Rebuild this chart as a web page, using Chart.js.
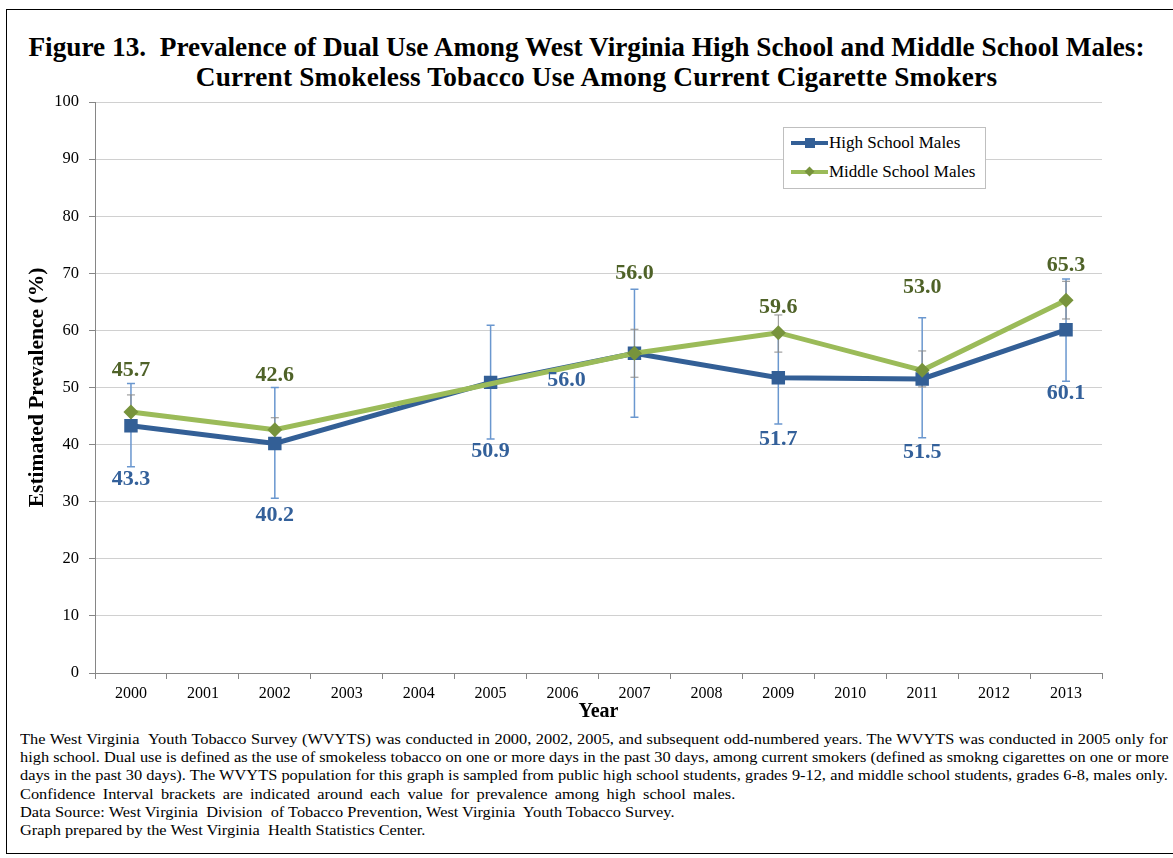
<!DOCTYPE html>
<html>
<head>
<meta charset="utf-8">
<script src="https://cdn.jsdelivr.net/npm/chart.js@4.4.0/dist/chart.umd.min.js"></script>
<style>
  body { margin: 0; background: #fff; font-family: "Liberation Serif", serif; }
  #frame { position: absolute; left: 6px; top: 9px; width: 1180px; height: 843px; border: 1px solid #000; }
  #title { position: absolute; left: 0; top: 32px; width: 1173px; text-align: center; font-weight: bold; font-size: 27.3px; line-height: 30px; }
  #title .l2 { position: relative; left: 10px; letter-spacing: 0.2px; }
  #chartBox { position: absolute; left: 0; top: 0; width: 1173px; height: 724px; }
  #legend { position: absolute; left: 783px; top: 127px; width: 201px; height: 60px; border: 1px solid #BFBFBF; background: #fff; font-size: 17px; }
  .row { position: absolute; left: 0; height: 20px; width: 200px; }
  .row .ln { position: absolute; left: 7px; top: 8px; width: 37px; height: 4px; }
  .row .mk { position: absolute; }
  .row .tx { position: absolute; left: 45px; top: 0; line-height: 20px; white-space: nowrap; }
  #notes { position: absolute; left: 20px; top: 730px; width: 1053px; font-size: 15px; line-height: 18.2px; transform: scaleX(1.09); transform-origin: 0 0; }
  #notes div { white-space: nowrap; }
  .j { text-align: justify; text-align-last: justify; }
</style>
</head>
<body>
<div id="frame"></div>
<div id="title">Figure 13.&nbsp; Prevalence of Dual Use Among West Virginia High School and Middle School Males:<br><span class="l2">Current Smokeless Tobacco Use Among Current Cigarette Smokers</span></div>
<div id="chartBox"><canvas id="dualUseChart"></canvas></div>
<div id="legend">
  <div class="row" style="top:5px">
    <div class="ln" style="background:#335F96"></div>
    <div class="mk" style="left:21px;top:5px;width:10px;height:10px;background:#335F96"></div>
    <div class="tx">High School Males</div>
  </div>
  <div class="row" style="top:34px">
    <div class="ln" style="background:#9BBB59"></div>
    <div class="mk" style="left:22px;top:6px;width:7px;height:7px;background:#77933C;transform:rotate(45deg)"></div>
    <div class="tx">Middle School Males</div>
  </div>
</div>
<div id="notes">
  <div class="j">The West Virginia&nbsp; Youth Tobacco Survey (WVYTS) was conducted in 2000, 2002, 2005, and subsequent odd-numbered years. The WVYTS was conducted in 2005 only for</div>
  <div class="j">high school. Dual use is defined as the use of smokeless tobacco on one or more days in the past 30 days, among current smokers (defined as smokng cigarettes on one or more</div>
  <div class="j">days in the past 30 days). The WVYTS population for this graph is sampled from public high school students, grades 9-12, and middle school students, grades 6-8, males only.</div>
  <div style="word-spacing:3px">Confidence Interval brackets are indicated around each value for prevalence among high school males.</div>
  <div>Data Source: West Virginia&nbsp; Division&nbsp; of Tobacco Prevention, West Virginia&nbsp; Youth Tobacco Survey.</div>
  <div>Graph prepared by the West Virginia&nbsp; Health Statistics Center.</div>
</div>
<script>
const years = ['2000', '2001', '2002', '2003', '2004', '2005', '2006', '2007', '2008', '2009', '2010', '2011', '2012', '2013'];
const highSchool = [43.3, null, 40.2, null, null, 50.9, null, 56.0, null, 51.7, null, 51.5, null, 60.1];
const middleSchool = [45.7, null, 42.6, null, null, null, null, 56.0, null, 59.6, null, 53.0, null, 65.3];
// confidence intervals
const highLow = [36.1, null, 30.6, null, null, 41.0, null, 44.8, null, 43.6, null, 41.2, null, 51.1];
const highHigh = [50.7, null, 50.0, null, null, 60.9, null, 67.2, null, 59.8, null, 62.2, null, 69.0];
const middleLow = [42.7, null, 40.5, null, null, null, null, 51.8, null, 56.2, null, 50.1, null, 62.0];
const middleHigh = [48.7, null, 44.7, null, null, null, null, 60.2, null, 62.7, null, 56.4, null, 68.6];
const yTicks = [0, 10, 20, 30, 40, 50, 60, 70, 80, 90, 100];

// label placement (pixels from the point)
const highLabelShift = [[0, 54], null, [0, 72], null, null, [0, 69], null, [-68, 27], null, [0, 62], null, [0, 73], null, [0, 63]];
const middleLabelShift = [[0, -42], null, [0, -54], null, null, null, null, [0, -80], null, [0, -25], null, [0, -83], null, [0, -35]];

const errorBars = {
  id: 'errorBars',
  beforeDatasetsDraw(chart) {
    const ctx = chart.ctx;
    const y = chart.scales.y;
    chart.data.datasets.forEach((ds, i) => {
      if (!ds.ciLow) return;
      const meta = chart.getDatasetMeta(i);
      ctx.save();
      ctx.strokeStyle = ds.ciColor;
      ctx.lineWidth = ds.ciWidth;
      ds.ciLow.forEach((lo, k) => {
        if (lo == null) return;
        const x = meta.data[k].x;
        const y1 = y.getPixelForValue(lo);
        const y2 = y.getPixelForValue(ds.ciHigh[k]);
        ctx.beginPath();
        ctx.moveTo(x, y1); ctx.lineTo(x, y2);
        ctx.moveTo(x - 4, y1); ctx.lineTo(x + 4, y1);
        ctx.moveTo(x - 4, y2); ctx.lineTo(x + 4, y2);
        ctx.stroke();
      });
      ctx.restore();
    });
  }
};

const pointLabels = {
  id: 'pointLabels',
  afterDatasetsDraw(chart) {
    const ctx = chart.ctx;
    ctx.save();
    ctx.font = 'bold 22px "Liberation Serif"';
    ctx.textAlign = 'center';
    ctx.textBaseline = 'middle';
    chart.data.datasets.forEach((ds, i) => {
      const meta = chart.getDatasetMeta(i);
      ctx.fillStyle = ds.labelColor;
      ds.data.forEach((v, k) => {
        if (v == null) return;
        const p = meta.data[k];
        const s = ds.labelShift[k];
        ctx.fillText(v.toFixed(1), p.x + s[0], p.y + s[1]);
      });
    });
    ctx.restore();
  }
};

new Chart(document.getElementById('dualUseChart'), {
  type: 'line',
  data: {
    labels: years,
    datasets: [{
      label: 'High School Males',
      data: highSchool,
      order: 1,
      spanGaps: true,
      borderColor: '#335F96',
      borderWidth: 5,
      pointStyle: 'rect',
      pointRadius: 9.5,
      pointBackgroundColor: '#335F96',
      pointBorderColor: '#335F96',
      pointBorderWidth: 0,
      ciLow: highLow, ciHigh: highHigh, ciColor: '#6A97CF', ciWidth: 1.5,
      labelColor: '#33609A', labelShift: highLabelShift
    }, {
      label: 'Middle School Males',
      data: middleSchool,
      order: 0,
      spanGaps: true,
      borderColor: '#9BBB59',
      borderWidth: 5,
      pointStyle: 'rectRot',
      pointRadius: 7.5,
      pointBackgroundColor: '#77933C',
      pointBorderColor: '#77933C',
      pointBorderWidth: 0,
      ciLow: middleLow, ciHigh: middleHigh, ciColor: '#8C8C8C', ciWidth: 1,
      labelColor: '#4F6228', labelShift: middleLabelShift
    }]
  },
  options: {
    responsive: true,
    maintainAspectRatio: false,
    animation: false,
    layout: { padding: { left: 20, right: 71, top: 102, bottom: 0 } },
    plugins: { legend: { display: false }, tooltip: { enabled: false } },
    scales: {
      x: {
        offset: true,
        grid: { offset: true, drawOnChartArea: false, tickLength: 6, color: '#868686', tickColor: '#868686' },
        border: { color: '#868686' },
        ticks: { color: '#000', font: { family: 'Liberation Serif', size: 16 }, padding: 5, maxRotation: 0, autoSkip: false },
        title: { display: true, text: 'Year', color: '#000', font: { family: 'Liberation Serif', size: 20, weight: 'bold' }, padding: 0 },
        afterFit(scale) { scale.height = 51; }
      },
      y: {
        min: 0, max: 100,
        afterBuildTicks(scale) { scale.ticks = yTicks.map(v => ({ value: v })); },
        grid: { color: '#D0D0D0', tickLength: 6, tickColor: '#868686' },
        border: { color: '#868686' },
        ticks: { color: '#000', font: { family: 'Liberation Serif', size: 16.5 }, padding: 10 },
        title: { display: true, text: 'Estimated Prevalence (%)', color: '#000', font: { family: 'Liberation Serif', size: 21.5, weight: 'bold' }, padding: { top: 5, bottom: 0 } },
        afterFit(scale) { scale.width = 75; }
      }
    }
  },
  plugins: [errorBars, pointLabels]
});
</script>
</body>
</html>
